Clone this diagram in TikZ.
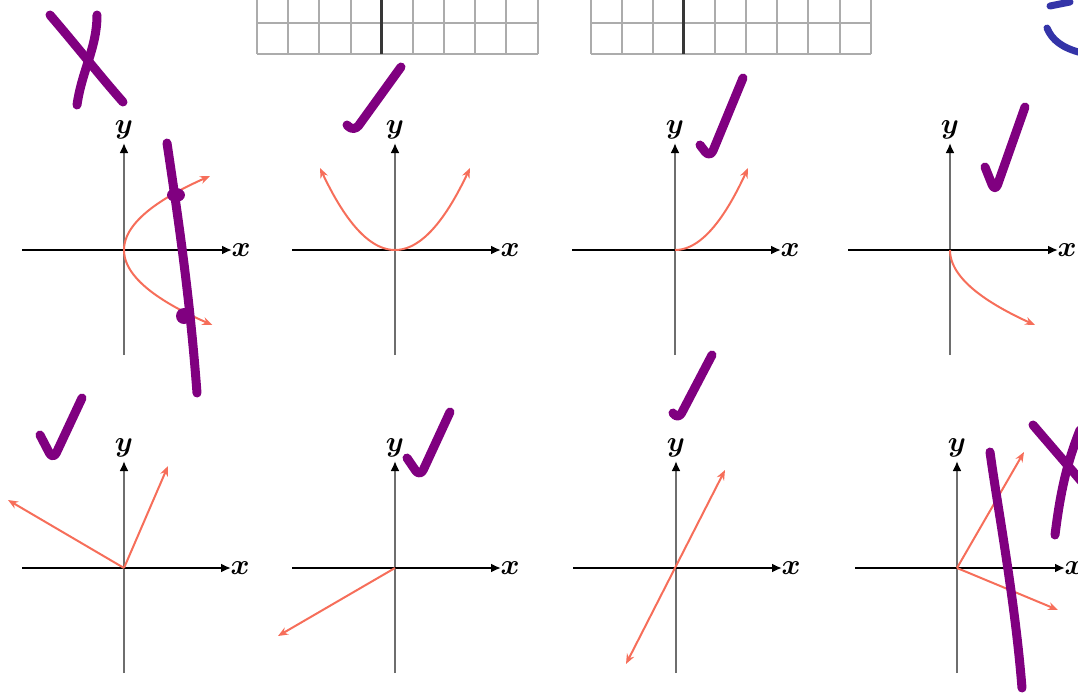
\documentclass[tikz,border=0pt]{standalone}
\usepackage{amsmath,bm}
\usetikzlibrary{arrows.meta}
\definecolor{salmon}{RGB}{246,110,90}
\definecolor{pen}{RGB}{128,0,128}
\definecolor{bluepen}{RGB}{52,52,168}
\definecolor{gridgray}{RGB}{172,172,172}
\definecolor{axgray}{RGB}{110,110,110}
\definecolor{darkgrid}{RGB}{55,55,55}
\begin{document}
\begin{tikzpicture}[x=0.5pt,y=-0.5pt,
  xaxis/.style={black, line width=1pt, -{Latex[length=5pt,width=4.5pt]}},
  yaxis/.style={axgray, line width=1pt, -{Latex[black,length=5pt,width=4.5pt]}},
  lbl/.style={font=\fontsize{14}{16}\selectfont, inner sep=0pt},
  curve/.style={salmon, line width=1pt, -{Stealth[length=5pt,width=4pt]}},
  curvetwo/.style={salmon, line width=1pt, {Stealth[length=5pt,width=4pt]}-{Stealth[length=5pt,width=4pt]}},
  penstroke/.style={pen, line width=4.5pt, line cap=round, line join=round},
  bluestroke/.style={bluepen, line width=3.5pt, line cap=round},
  gridline/.style={gridgray, line width=1pt},
  darkline/.style={darkgrid, line width=1.3pt}]

\useasboundingbox (0,0) rectangle (1078,692);

% top tables
\foreach \i in {0,...,9} \draw[gridline] ({257+\i*31.17},0) -- ({257+\i*31.17},54);
\draw[gridline] (257,22.7) -- (537.5,22.7);
\draw[gridline] (257,53.5) -- (537.5,53.5);
\draw[darkline] (381.7,0) -- (381.7,54);
\foreach \i in {0,...,9} \draw[gridline] ({590.7+\i*31.1},0) -- ({590.7+\i*31.1},54);
\draw[gridline] (590.7,22.7) -- (870.7,22.7);
\draw[gridline] (590.7,53.5) -- (870.7,53.5);
\draw[darkline] (683.7,0) -- (683.7,54);

% axes
\foreach \n/\ox/\oy/\xl/\xr in {1/124/250/102/108,2/395/250/103/106,3/675/250/103/106,4/950/250/102/108,5/124/568/102/107,6/395/568/103/106,7/676/568/103/106,8/957/568/102/108} {
  \coordinate (o\n) at (\ox,\oy);
  \draw[yaxis] (\ox,\oy+105) -- (\ox,\oy-107);
  \draw[xaxis] (\ox-\xl,\oy) -- (\ox+\xr,\oy);
  \node[lbl] (x\n) at (\ox+\xr+9,\oy) {$\boldsymbol{x}$};
  \node[lbl] (y\n) at (\ox,\oy-120) {$\boldsymbol{y}$};
}

% curves
\draw[curvetwo] plot[domain=-74:75, samples=60] ({124+86*(\x/74)^2}, {250+\x});
\draw[curvetwo] plot[domain=-75:75, samples=60] ({395+\x}, {250-82*(\x/75)^2});
\draw[curve] plot[domain=0:73, samples=40] ({675+\x}, {250-82*(\x/73)^2});
\draw[curve] plot[domain=0:75, samples=40] ({950+85*(\x/75)^2}, {250+\x});
\coordinate (a5) at (8,500);
\coordinate (b5) at (168,466);
\draw[curve] (o5) -- (a5);
\draw[curve] (o5) -- (b5);
\coordinate (a6) at (278,636);
\draw[curve] (o6) -- (a6);
\coordinate (a7) at (626,664);
\coordinate (b7) at (725,470);
\draw[curvetwo] (a7) -- (b7);
\coordinate (a8) at (1024,452);
\coordinate (b8) at (1058,610);
\draw[curve] (o8) -- (a8);
\draw[curve] (o8) -- (b8);

% handwritten marks
\draw[penstroke] (50,15) .. controls (80,50) and (100,76) .. (123,102);
\draw[penstroke] (97,15) .. controls (97,48) and (82,70) .. (77,105);
\draw[penstroke] (167,143) .. controls (180,230) and (190,300) .. (197,393);
\fill[pen] (176,195) ellipse [x radius=4.5pt, y radius=3.5pt];
\fill[pen] (184,316) ellipse [x radius=4pt, y radius=4pt];

\draw[penstroke, rounded corners=4pt] (347,125) -- (354,132) -- (401,67);
\draw[penstroke, rounded corners=4pt] (700,145) -- (710,158) -- (743,78);
\draw[penstroke, rounded corners=4pt] (985,167) -- (995,192) -- (1025,107);
\draw[penstroke, rounded corners=4pt] (40,435) -- (53,460) -- (82,398);
\draw[penstroke, rounded corners=4pt] (407,458) -- (420,477) -- (450,412);
\draw[penstroke, rounded corners=4pt] (673,413) -- (678,420) -- (712,355);

\draw[penstroke] (990,452) .. controls (998,510) and (1015,600) .. (1022,688);
\draw[penstroke] (1033,425) -- (1082,482);
\draw[penstroke] (1055,535) .. controls (1060,495) and (1066,465) .. (1080,430);

\draw[bluestroke] (1050,6) -- (1070,2);
\draw[bluestroke] (1047,28) .. controls (1052,40) and (1062,48) .. (1082,53);
\end{tikzpicture}
\end{document}
